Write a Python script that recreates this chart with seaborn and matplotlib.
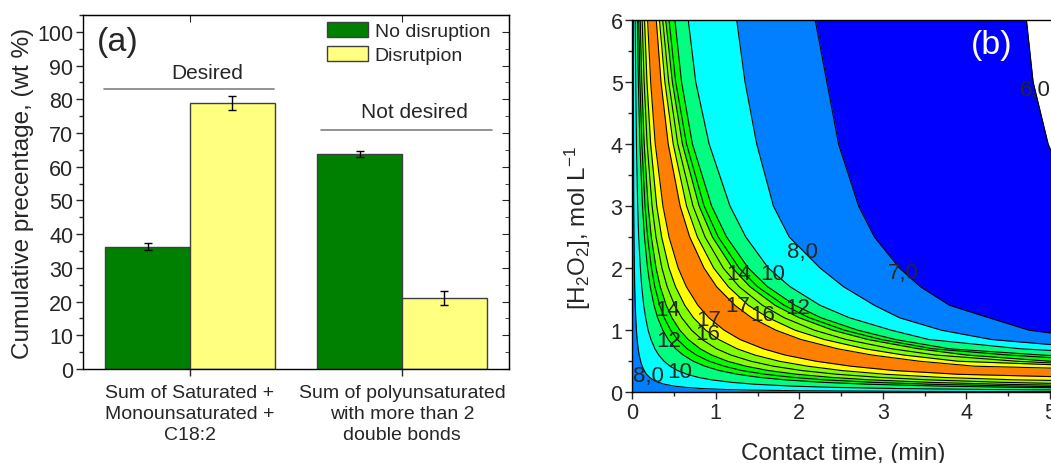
import numpy as np
import pandas as pd
import seaborn as sns
import matplotlib.pyplot as plt
from matplotlib.patches import Patch
from matplotlib.ticker import MultipleLocator

sns.set_style('ticks')
plt.rcParams['font.family'] = ['Liberation Sans', 'DejaVu Sans']
plt.rcParams['mathtext.default'] = 'regular'

# ---- panel (a) data ----
groups = ['Sum of Saturated +\nMonounsaturated +\nC18:2',
          'Sum of polyunsaturated\nwith more than 2\ndouble bonds']
conditions = ['No disruption', 'Disrutpion']
no_disruption = [36.3, 63.7]
disruption = [78.9, 21.1]
no_disruption_err = [1.0, 0.9]
disruption_err = [2.1, 2.1]

# ---- panel (b) data: x (min) where each contour line crosses these [H2O2] rows ----
h2o2_rows = [6.0, 5.0, 4.0, 3.0, 2.5, 2.0, 1.7, 1.4, 1.2, 1.0, 0.85, 0.7, 0.6, 0.5,
             0.42, 0.35, 0.29, 0.24, 0.2, 0.16, 0.13, 0.1, 0.08, 0.06, 0.045, 0.035,
             0.025, 0.015, 0.0]
line_levels = ['8r', '10r', '12r', '13r', '14r', '15r', '16r', '17r',
               '17d', '16d', '15d', '14d', '13d', '12d', '10d', '8d', '7d', '6d']
line_x = {
    '8r': [0.012, 0.013, 0.015, 0.018, 0.021, 0.025, 0.03, 0.036, 0.042, 0.05, 0.059, 0.071,
           0.083, 0.1, 0.119, 0.143, 0.172, 0.208, 0.25, 0.31, 0.385, 0.5, 0.63, 0.83, 1.11,
           1.43, 2.0, 3.33],
    '10r': [0.035, 0.041, 0.05, 0.065, 0.077, 0.097, 0.113, 0.137, 0.16, 0.19, 0.224, 0.271,
            0.317, 0.38, 0.452, 0.543, 0.655, 0.79, 0.95, 1.19, 1.46, 1.9, 2.38, 3.17, 4.22,
            5.43],
    '12r': [0.061, 0.073, 0.091, 0.122, 0.146, 0.183, 0.215, 0.261, 0.304, 0.365, 0.43, 0.52,
            0.61, 0.73, 0.87, 1.04, 1.26, 1.52, 1.83, 2.28, 2.81, 3.65, 4.56, 6.1],
    '13r': [0.077, 0.092, 0.115, 0.153, 0.184, 0.23, 0.27, 0.329, 0.383, 0.46, 0.541, 0.657,
            0.767, 0.92, 1.1, 1.31, 1.59, 1.92, 2.3, 2.88, 3.54, 4.6, 5.75, 7.7],
    '14r': [0.095, 0.114, 0.143, 0.19, 0.228, 0.285, 0.335, 0.407, 0.475, 0.57, 0.67, 0.814,
            0.95, 1.14, 1.36, 1.63, 1.97, 2.38, 2.85, 3.56, 4.38, 5.7, 7.1],
    '15r': [0.118, 0.142, 0.178, 0.237, 0.284, 0.355, 0.418, 0.507, 0.592, 0.71, 0.835, 1.01,
            1.18, 1.42, 1.69, 2.03, 2.45, 2.96, 3.55, 4.44, 5.46, 7.1],
    '16r': [0.147, 0.176, 0.22, 0.293, 0.352, 0.44, 0.518, 0.629, 0.733, 0.88, 1.035, 1.257,
            1.467, 1.76, 2.1, 2.51, 3.03, 3.7, 4.6, 6.5],
    '17r': [0.183, 0.22, 0.275, 0.367, 0.44, 0.55, 0.647, 0.786, 0.917, 1.1, 1.29, 1.57,
            1.83, 2.2, 2.62, 3.14, 3.9, 5.4, 7.0],
    '17d': [0.287, 0.344, 0.43, 0.573, 0.688, 0.86, 1.01, 1.23, 1.43, 1.72, 2.02, 2.46,
            2.87, 3.44, 4.1, 6.2],
    '16d': [0.325, 0.39, 0.49, 0.65, 0.78, 0.975, 1.15, 1.39, 1.63, 1.95, 2.3, 2.79,
            3.25, 3.9, 5.5, 7.5],
    '15d': [0.364, 0.436, 0.545, 0.727, 0.872, 1.09, 1.28, 1.56, 1.82, 2.18, 2.56, 3.11,
            3.63, 4.6, 5.8],
    '14d': [0.40, 0.48, 0.60, 0.80, 0.96, 1.2, 1.41, 1.71, 2.0, 2.4, 2.82, 3.43,
            4.0, 5.0, 6.5],
    '13d': [0.44, 0.52, 0.65, 0.86, 1.03, 1.28, 1.5, 1.82, 2.12, 2.54, 2.98, 3.6,
            4.5, 5.7],
    '12d': [0.51, 0.59, 0.72, 0.95, 1.13, 1.39, 1.62, 1.95, 2.26, 2.7, 3.15, 3.8,
            4.9, 6.3],
    '10d': [0.67, 0.76, 0.92, 1.17, 1.36, 1.63, 1.89, 2.25, 2.6, 3.1, 3.55, 4.65,
            6.0, 7.5],
    '8d': [1.25, 1.35, 1.49, 1.69, 1.88, 2.25, 2.53, 2.9, 3.2, 3.7, 4.3, 5.6, 6.8],
    '7d': [2.19, 2.33, 2.47, 2.71, 2.9, 3.2, 3.45, 3.8, 4.27, 4.75, 5.6, 6.5],
    '6d': [4.72, 4.80, 4.98, 5.3, 5.6, 6.0],
}
label_text = ['8,0', '10', '12', '14', '16', '17', '17', '16', '14', '10', '12', '8,0', '7,0', '6,0']
label_x = [0.19, 0.57, 0.44, 0.43, 0.90, 0.92, 1.26, 1.56, 1.28, 1.68, 1.98, 2.04, 3.25, 4.83]
label_y = [0.27, 0.33, 0.83, 1.33, 0.94, 1.18, 1.39, 1.26, 1.92, 1.92, 1.37, 2.26, 1.93, 4.87]

# band colours between consecutive lines (Origin rainbow)
AZURE, CYAN, SPRING, GREEN = '#0080FF', '#00FFFF', '#00FF80', '#00FF00'
CHART, YELLOW, ORANGE, BLUE = '#80FF00', '#FFFF00', '#FF8000', '#0000FF'
band_colors = [AZURE, CYAN, SPRING, GREEN, GREEN, CHART, CHART, YELLOW, ORANGE,
               YELLOW, CHART, CHART, GREEN, GREEN, SPRING, CYAN, AZURE, BLUE]

fig = plt.figure(figsize=(10.51, 4.64), dpi=100)

# ================= panel (a) =================
ax = fig.add_axes([0.079, 0.2026, 0.4053, 0.763])
df = pd.DataFrame({
    'group': groups * 2,
    'condition': [conditions[0]] * 2 + [conditions[1]] * 2,
    'value': no_disruption + disruption,
})
pal = ['#008000', '#FFFF80']
sns.barplot(data=df, x='group', y='value', hue='condition', palette=pal,
            errorbar=None, width=0.8, edgecolor='#404040', linewidth=1,
            saturation=1, ax=ax, legend=False)
errs = [no_disruption_err, disruption_err]
for cont, err in zip(ax.containers, errs):
    xs = [p.get_x() + p.get_width() / 2 for p in cont]
    hs = [p.get_height() for p in cont]
    ax.errorbar(xs, hs, yerr=err, fmt='none', ecolor='black', elinewidth=1,
                capsize=3, capthick=1)

ax.set_xlim(-0.505, 1.505)
ax.set_ylim(0, 105)
ax.yaxis.set_major_locator(MultipleLocator(10))
ax.yaxis.set_minor_locator(MultipleLocator(5))
ax.tick_params(axis='y', which='major', direction='out', length=5, width=1,
               labelsize=15.5, pad=2)
ax.tick_params(axis='y', which='minor', direction='out', length=3, width=1)
ax.tick_params(axis='x', direction='out', length=5, width=1, labelsize=14, pad=6)
for lbl in ax.get_xticklabels():
    lbl.set_linespacing(1.3)
ax.set_xlabel('')
ax.set_ylabel('Cumulative precentage, (wt %)', fontsize=17.5, labelpad=2)
for s in ax.spines.values():
    s.set_visible(True)
    s.set_linewidth(1)
    s.set_color('black')

sec_r = ax.secondary_yaxis('right')
sec_r.yaxis.set_major_locator(MultipleLocator(10))
sec_r.yaxis.set_minor_locator(MultipleLocator(5))
sec_r.tick_params(which='major', direction='in', length=5, labelright=False)
sec_r.tick_params(which='minor', direction='in', length=3)
sec_t = ax.secondary_xaxis('top')
sec_t.set_xticks([0, 1])
sec_t.tick_params(direction='in', length=5, labeltop=False)

handles = [Patch(facecolor=c, edgecolor='#404040', linewidth=1) for c in pal]
ax.legend(handles, conditions, loc='upper left', bbox_to_anchor=(0.573, 0.98),
          frameon=False, fontsize=14, handlelength=2.1, handleheight=0.8,
          handletextpad=0.35, labelspacing=0.3, borderpad=0, borderaxespad=0)

ax.plot([-0.406, 0.396], [83, 83], color='#808080', lw=1.2)
ax.text(0.08, 87.9, 'Desired', ha='center', va='center', fontsize=15)
ax.plot([0.618, 1.425], [71, 71], color='#808080', lw=1.2)
ax.text(1.057, 76.3, 'Not desired', ha='center', va='center', fontsize=15)
ax.text(-0.342, 97.1, '(a)', ha='center', va='center', fontsize=24.5)

# ================= panel (b) =================
axb = fig.add_axes([0.6016, 0.1524, 0.4012, 0.803])
rows = np.array(h2o2_rows)
n = len(rows)
edges = [np.zeros(n)]
for name in line_levels:
    xs = line_x[name]
    edges.append(np.array(xs + [8.0] * (n - len(xs))))
for i, col in enumerate(band_colors):
    axb.fill_betweenx(rows, edges[i], edges[i + 1], color=col, lw=0)
for e in edges[1:]:
    axb.plot(e, rows, color='black', lw=0.8)
for t, x, y in zip(label_text, label_x, label_y):
    axb.text(x, y, t, ha='center', va='center', fontsize=16)
axb.text(4.31, 5.6, '(b)', color='white', ha='center', va='center', fontsize=24.5)

axb.set_xlim(0, 5.05)
axb.set_ylim(0, 6)
axb.xaxis.set_major_locator(MultipleLocator(1))
axb.xaxis.set_minor_locator(MultipleLocator(0.5))
axb.yaxis.set_major_locator(MultipleLocator(1))
axb.yaxis.set_minor_locator(MultipleLocator(0.5))
axb.tick_params(which='major', direction='out', length=5, width=1, labelsize=15.5, pad=2)
axb.tick_params(which='minor', direction='out', length=3, width=1)
axb.spines['right'].set_visible(False)
for s in ['left', 'bottom', 'top']:
    axb.spines[s].set_linewidth(1)
    axb.spines[s].set_color('black')
axb.set_xlabel('Contact time, (min)', fontsize=17.5, labelpad=14)
axb.set_ylabel('[H$_2$O$_2$], mol L$^{-1}$', fontsize=17.5)
axb.yaxis.set_label_coords(-0.092, 0.444)

fig.savefig('out.png', dpi=100)
